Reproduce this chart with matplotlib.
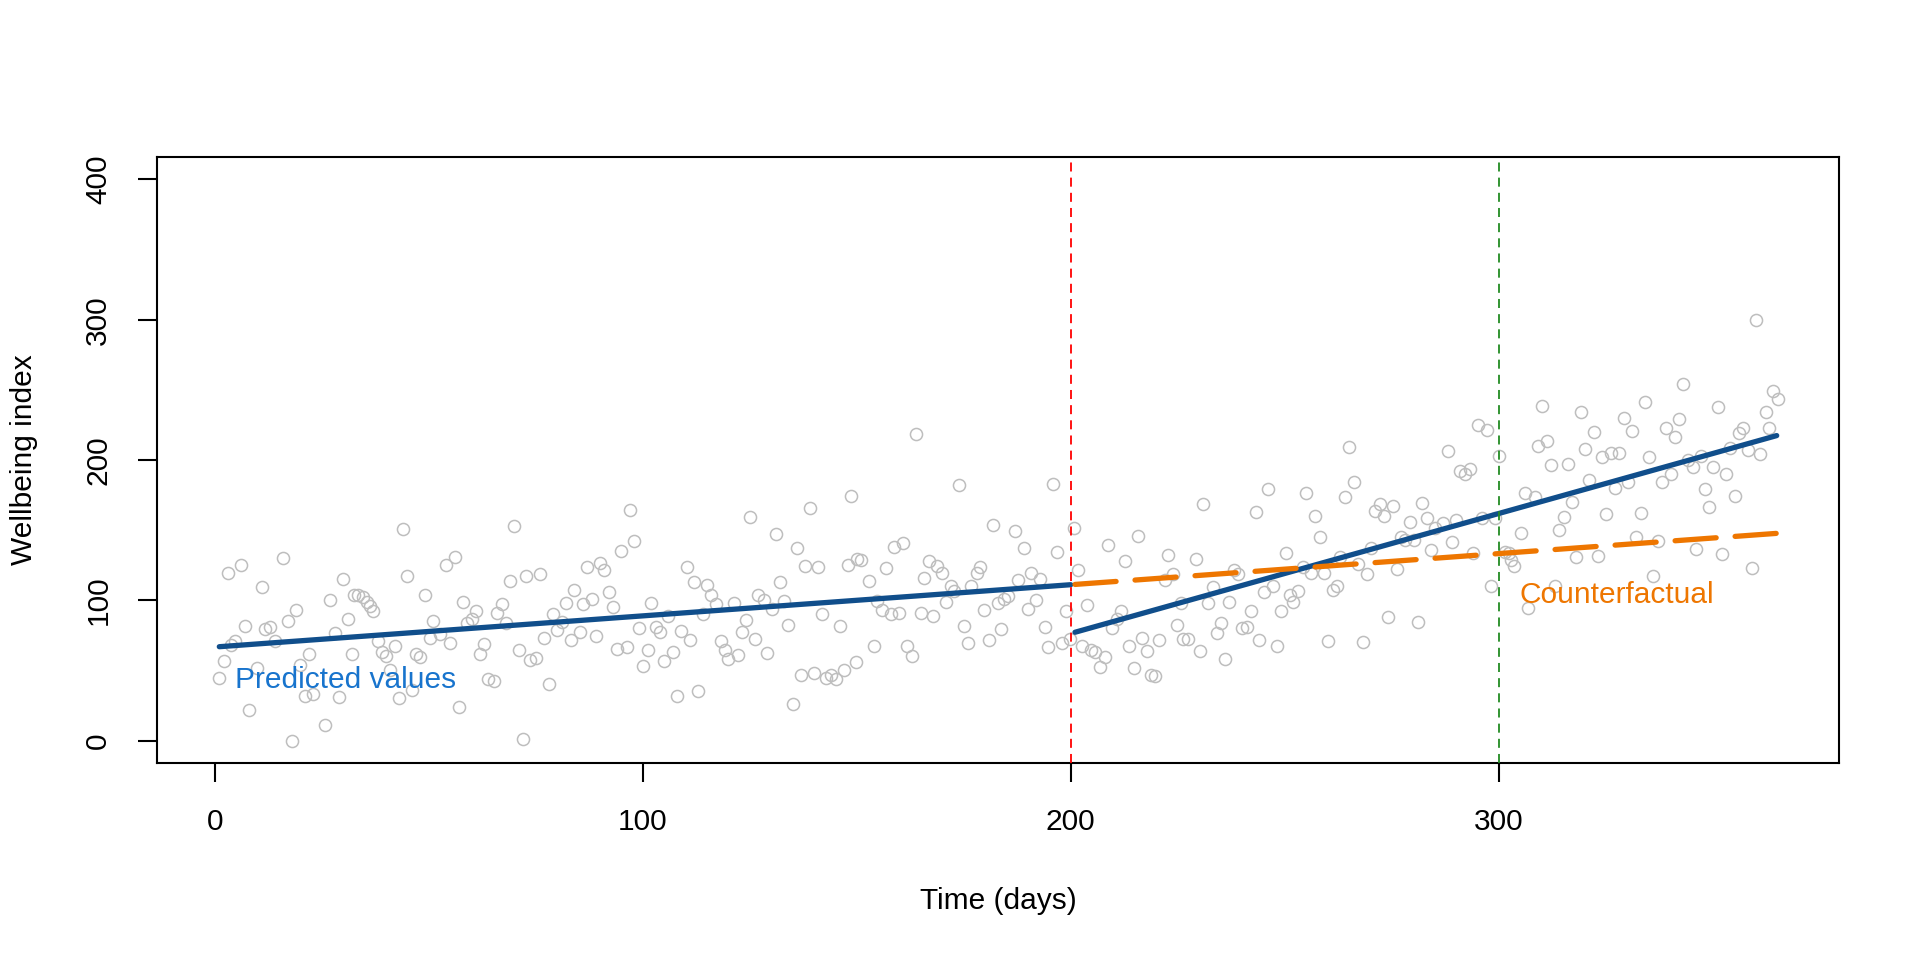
import matplotlib
matplotlib.use("Agg")
import matplotlib.pyplot as plt

# ---------------- data ----------------
days = [
    1, 2.1, 3.0, 3.7, 4.6, 6.0, 7.0, 7.9, 9.9, 10.9, 11.7, 12.9, 14.0, 15.8, 17.0, 17.9, 18.9, 19.9,
    21.0, 22.0, 23.0, 25.8, 26.8, 28.0, 28.9, 29.9, 31.0, 32.0, 32.6, 33.5, 34.7, 35.5, 36.3, 36.9,
    38.1, 39.0, 40.0, 40.9, 42.1, 43.1, 43.9, 44.8, 46.1, 47.0, 47.9, 49.1, 50.2, 50.9, 52.6, 53.9,
    55.0, 56.1, 57.0, 57.9, 58.9, 60.1, 61.1, 62.0, 62.9, 63.9, 65.1, 66.0, 67.1, 68.1, 68.9, 69.9,
    71.0, 72.0, 72.8, 73.7,
    75.1, 76.0, 77.0, 78.0, 79.1, 79.9, 81.1, 82.0, 83.1, 84.0, 85.2, 86.1, 87.0, 88.0, 89.1, 89.9,
    91.0, 92.1, 93.0, 93.9, 94.9, 96.2, 97.0, 98.0, 99.1, 100.1, 101.1, 101.9, 103.1, 104.1, 105.0,
    105.9, 107.1, 108.0, 109.0, 110.2, 111.1, 112.0, 113.0, 114.1, 115.1, 116.0, 117.2, 118.2, 119.1,
    120.0, 121.2, 122.2, 123.2, 124.1, 125.1, 126.1, 127.0, 128.2, 129.1, 130.1, 131.1, 132.0, 133.1,
    134.0, 135.2, 136.1, 137.0, 138.0, 139.0, 140.1, 141.0, 141.9, 142.9, 144.0, 145.1, 146.1, 147.1,
    147.9, 148.6, 149.7,
    150.1, 150.9, 152.9, 154.0, 154.8, 155.8, 156.9, 157.9, 158.7, 159.8, 160.9, 161.8, 162.8, 163.9,
    165.0, 165.7, 166.8, 167.9, 168.8, 169.8, 170.9, 171.9, 172.7, 173.8, 175.0, 175.9, 176.8, 178.0,
    178.9, 179.8, 180.8, 181.9, 182.9, 183.8, 184.3, 185.3, 186.9, 187.7, 189.0, 189.9, 190.8, 191.8,
    192.9, 193.9, 194.8, 195.9, 196.9, 197.9, 198.9, 199.8, 200.8, 201.7, 202.7, 203.9, 204.7, 205.6,
    206.9, 207.9, 208.8, 209.7, 210.7, 211.7, 212.7, 213.7, 214.9, 215.8, 216.7, 217.9, 218.8, 219.8,
    220.7, 222.0, 222.8, 223.9, 224.8, 225.8, 226.2,
    227.5, 229.2, 230.1, 231.0, 232.1, 233.2, 234.2, 235.1, 236.1, 237.1, 238.2, 239.1, 240.0, 241.1,
    242.1, 243.2, 244.1, 245.1, 246.0, 247.2, 248.1, 249.1, 250.3, 251.2, 252.0, 253.1, 254.2, 255.1,
    256.1, 257.2, 258.2, 259.1, 260.1, 261.2, 262.2, 263.0, 264.0, 265.1, 266.2, 267.2, 268.2, 269.2,
    270.2, 271.1, 272.2, 273.1, 274.1, 275.3, 276.2, 277.3, 278.2, 279.3, 280.2, 281.1, 282.0, 283.2,
    284.2, 285.2, 287.1, 288.1, 289.0, 290.1, 291.0, 292.2, 293.4, 294.1, 295.2, 296.1, 297.3, 298.3,
    299.2, 300.1, 301.5, 302.5, 303.0, 303.7,
    305.2, 306.1, 306.9, 308.4, 309.2, 310.1, 311.3, 312.2, 313.2, 314.1, 315.3, 316.2, 317.2, 318.1,
    319.2, 320.2, 321.1, 322.2, 323.2, 324.2, 325.2, 326.2, 327.2, 328.1, 329.3, 330.2, 331.2, 332.2,
    333.3, 334.2, 335.1, 336.2, 337.3, 338.3, 339.2, 340.4, 341.2, 342.2, 343.1, 344.3, 345.4, 346.2,
    347.2, 348.2, 349.2, 350.2, 351.2, 352.2, 353.1, 354.2, 355.2, 356.1, 357.1, 358.2, 359.2, 360.2,
    361.1, 362.4, 363.3, 364.2, 365.3,
]
wellbeing = [
    44.5, 56.4, 119.5, 68, 70.7, 125.2, 81.9, 21.9, 51.7, 109.5, 79.5, 81, 71.2, 130, 85, 0, 92.9, 53.6,
    31.9, 61.9, 33.3, 10.9, 100.2, 76.9, 31, 115.5, 86.4, 61.9, 104, 103.6, 102.4, 98.8, 95.9, 92.4,
    70.9, 63, 60.2, 50, 67.4, 30.5, 150.7, 117.1, 35.7, 61.9, 59.5, 103.6, 73.3, 85.2, 76.2, 125,
    69.8, 131, 23.8, 98.6, 83.8, 86.9, 92.4, 61.9, 68.6, 43.8, 42.4, 91, 97, 83.8, 113.8, 152.9,
    64.3, 0.9, 117, 57.6,
    59, 118.6, 73.1, 40.2, 90.5, 78.6, 84.5, 98.1, 71.4, 107.1, 77.4, 97.6, 123.8, 100.7, 74.3, 126.9,
    121.4, 105.9, 95.2, 65, 135.2, 66.7, 164.5, 142.4, 80.2, 53.1, 64.3, 98.1, 81, 77.4, 56.7,
    88.8, 63.1, 32.1, 78.1, 123.6, 71.4, 113.1, 35.2, 90.5, 111.2, 104.1, 97.6, 70.9, 64.3,
    57.9, 98.3, 60.7, 77.4, 86.2, 159.5, 72.1, 104.1, 100, 62.6, 94, 147.1, 113.1, 99.5,
    82.6, 26.2, 137.4, 46.7, 124.5, 166, 48.1, 123.8, 90.5, 44.5, 46.4, 43.6, 81.7, 50,
    125, 174.5, 56,
    129.3, 128.6, 113.8, 67.1, 99.3, 92.9, 123.1, 90.5, 138.1, 91, 141, 67.4, 60.2, 218.6,
    91, 115.9, 128.1, 88.8, 124.5, 119.5, 98.8, 110.2, 106.4, 182.4, 81.7, 69.5, 110.2, 119.5,
    123.8, 93.3, 71.7, 153.6, 98.1, 79.3, 101.2, 103.1, 149.3, 114.3, 137.4, 93.6, 119.5, 100.5,
    115.5, 81, 66.7, 183.1, 134.3, 69.8, 92.1, 72.6, 151.7, 121.4, 67.4, 96.9, 64.3, 63.1,
    52.4, 59.5, 139.5, 80.5, 86.9, 92.4, 128.1, 67.4, 51.7, 145.9, 73.1, 63.8, 46.9, 45.9,
    71.4, 114.3, 132.1, 119, 82.6, 98.3, 72.6,
    72.4, 129.5, 63.8, 168.8, 98.1, 109.5, 76.9, 83.8, 58.1, 98.8, 121.9, 119, 80.2, 81,
    92.4, 163.1, 71.9, 105.9, 179.3, 110.2, 67.4, 92.4, 133.8, 104, 98.8, 106.7, 123.8, 176.7,
    119.5, 160.2, 145.2, 119.5, 70.9, 107.6, 110.2, 130.5, 173.8, 209.5, 184.5, 126.2, 70.2, 118.8,
    137.4, 163.8, 168.6, 160, 88.1, 167.1, 122.6, 145.2, 143.3, 155.9, 143, 84.5, 169.5, 158.3,
    135.7, 151.2, 155.2, 206.7, 141.7, 157.1, 192.4, 190, 193.3, 134, 225, 158.3, 221.4, 110.2,
    158.3, 202.9, 134.5, 133.8, 128.6, 124.6,
    148.1, 176.2, 94.8, 173.8, 210.2, 238.6, 213.6, 196.2, 110, 150, 159.5, 197.4, 169.8, 130.5,
    234.5, 208.1, 185.5, 220.2, 131.9, 202.4, 161.7, 205.2, 179.8, 205.2, 230.2, 184.5, 221, 144.8,
    161.9, 241, 202.4, 117.4, 142.4, 184.5, 222.6, 189.8, 216.2, 229, 254.5, 200, 195.2, 136.9,
    202.9, 179.3, 166.7, 195.2, 238.1, 132.9, 189.8, 208.8, 174.3, 219, 222.6, 207.1, 123.3, 300,
    204.1, 234.5, 222.6, 249.5, 243.4,
]

# fitted segments (endpoints of the straight fitted lines)
pre_days = [1, 200]
pre_fit = [66.9, 111.1]
post_days = [201, 365]
post_fit = [77.2, 217.4]
cf_days = [201, 365]
cf_fit = [111.3, 147.7]

intervention_day = 200
followup_day = 300

x_ticks = [0, 100, 200, 300]
y_ticks = [0, 100, 200, 300, 400]
x_label = "Time (days)"
y_label = "Wellbeing index"
label_pred = "Predicted values"
label_cf = "Counterfactual"

# ---------------- styling ----------------
plt.rcParams['font.family'] = ['Liberation Sans', 'DejaVu Sans']
FS = 21.5
W, H = 1920, 960
fig = plt.figure(figsize=(W / 100, H / 100), dpi=100)
L, R, T, B = 157, 1839, 157, 763
ax = fig.add_axes([L / W, 1 - B / H, (R - L) / W, (B - T) / H])

ax.plot(days, wellbeing, linestyle='none', marker='o', markersize=8.7,
        markerfacecolor='none', markeredgecolor='#BEBEBE', markeredgewidth=1.1, zorder=2)

ax.plot(pre_days, pre_fit, color='#104E8B', lw=3.8, solid_capstyle='round', zorder=3)
ax.plot(post_days, post_fit, color='#104E8B', lw=3.8, solid_capstyle='round', zorder=3)
ax.plot(cf_days, cf_fit, color='#EE7600', lw=3.8, dash_capstyle='round',
        dashes=(7.8, 3.6), zorder=3)

ax.axvline(intervention_day, color='#FF0000', lw=1.3, dashes=(5, 3.4), zorder=4)
ax.axvline(followup_day, color='#228B22', lw=1.3, dashes=(5, 3.4), zorder=4)

ax.text(4.7, 37.4, label_pred, color='#1874CD', fontsize=FS, ha='left', va='baseline', zorder=5)
ax.text(305, 98.1, label_cf, color='#EE7600', fontsize=FS, ha='left', va='baseline', zorder=5)

ax.set_xlim(-13.56, 379.56)
ax.set_ylim(-16, 416)
ax.set_xticks(x_ticks)
ax.set_yticks(y_ticks)
ax.set_xticklabels([str(v) for v in x_ticks])
ax.set_yticklabels([str(v) for v in y_ticks])
for sp in ax.spines.values():
    sp.set_linewidth(1.5)
    sp.set_color('black')
ax.tick_params(axis='both', direction='out', length=13.7, width=1.5, labelsize=FS,
               colors='black')
ax.tick_params(axis='x', pad=19)
ax.tick_params(axis='y', pad=18.5)
for lbl in ax.get_yticklabels():
    lbl.set_rotation(90)
    lbl.set_va('center')
    lbl.set_ha('right')

ax.set_xlabel(x_label, fontsize=FS)
ax.set_ylabel(y_label, fontsize=FS)
ax.xaxis.set_label_coords(0.5, (B - 901) / (B - T))
ax.xaxis.label.set_va('center')
ax.yaxis.set_label_coords((24.5 - L) / (R - L), 0.5)
ax.yaxis.label.set_va('center')
ax.yaxis.label.set_ha('center')

fig.savefig('out.png', dpi=100)
